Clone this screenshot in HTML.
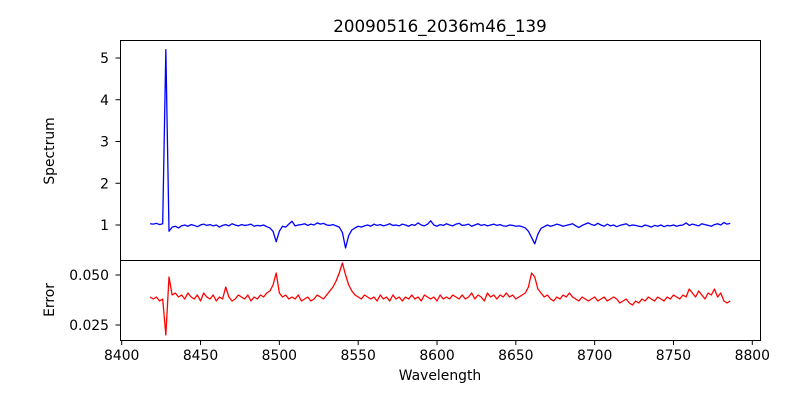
<!DOCTYPE html>
<html><head><meta charset="utf-8"><style>
html,body{margin:0;padding:0;background:#fff;}
svg text{font-family:"DejaVu Sans","Liberation Sans",sans-serif;fill:#000;}
</style></head><body>
<svg id="chart" width="800" height="400" xmlns="http://www.w3.org/2000/svg">
<rect width="800" height="400" fill="#fff"/>
<text x="440" y="32" font-size="16.7" text-anchor="middle">20090516_2036m46_139</text>
<g id="top"></g><g id="bot"></g>
<rect x="120.5" y="40.5" width="640" height="220" fill="none" stroke="#000" stroke-width="1"/>
<rect x="120.5" y="260.5" width="640" height="80" fill="none" stroke="#000" stroke-width="1"/>
<text transform="translate(54,151) rotate(-90)" font-size="13.9" text-anchor="middle">Spectrum</text>
<text transform="translate(54,300) rotate(-90)" font-size="13.9" text-anchor="middle">Error</text>
<text x="440" y="380" font-size="13.9" text-anchor="middle">Wavelength</text>
</svg>
<script>
const startWl = 8418, stepWl = 2;
const spectrum = [
1.03,1.02,1.04,1.01,1.03,5.20,0.85,0.95,0.97,0.93,
0.98,1.00,0.97,1.01,0.99,0.96,1.00,1.02,0.99,1.01,
0.98,1.00,0.95,0.99,1.01,0.98,1.03,1.00,0.98,1.01,
0.99,1.00,1.02,0.97,0.99,0.98,1.00,0.96,0.93,0.85,
0.60,0.85,0.97,0.95,1.02,1.09,0.98,1.00,1.01,1.03,
0.99,1.02,1.00,1.05,1.02,1.04,1.00,0.99,1.01,0.98,
0.95,0.82,0.45,0.75,0.88,0.93,0.97,0.95,0.98,1.00,
0.97,1.02,0.99,1.01,0.98,1.00,1.03,0.99,1.00,0.98,
1.02,1.00,0.97,1.01,0.99,1.05,1.00,0.98,1.02,1.10,
1.00,0.97,1.01,0.99,1.03,1.00,0.98,1.02,1.04,0.99,
1.00,1.02,0.97,1.00,1.03,0.99,1.01,0.98,1.00,1.02,
0.99,1.01,0.98,0.97,1.00,0.99,0.97,0.98,0.96,0.93,
0.85,0.70,0.55,0.78,0.92,0.96,1.00,0.97,0.99,1.02,
1.00,0.97,0.99,1.01,1.03,0.98,0.94,0.99,1.02,1.05,
1.01,0.99,1.04,1.00,0.97,1.02,0.98,1.00,0.96,0.99,
1.01,1.03,0.98,1.00,0.99,0.97,0.96,1.00,0.98,0.95,
0.99,0.97,1.00,0.96,0.99,0.98,1.00,0.97,0.99,1.00,
1.05,0.99,1.02,1.00,0.98,1.03,1.01,0.99,0.97,1.01,
1.03,1.00,1.06,1.02,1.04];
const errorVals = [
0.039,0.038,0.039,0.037,0.038,0.020,0.049,0.040,0.041,0.039,
0.040,0.038,0.041,0.039,0.038,0.040,0.037,0.041,0.039,0.038,
0.040,0.037,0.039,0.038,0.044,0.039,0.037,0.038,0.040,0.039,
0.038,0.040,0.037,0.039,0.038,0.040,0.039,0.041,0.042,0.045,
0.051,0.041,0.039,0.040,0.038,0.039,0.038,0.040,0.037,0.038,
0.039,0.037,0.038,0.040,0.039,0.038,0.040,0.042,0.044,0.047,
0.051,0.056,0.050,0.045,0.042,0.040,0.039,0.038,0.040,0.039,
0.038,0.039,0.037,0.040,0.038,0.039,0.037,0.040,0.038,0.039,
0.037,0.039,0.038,0.040,0.038,0.039,0.037,0.040,0.039,0.038,
0.039,0.037,0.040,0.038,0.039,0.038,0.040,0.039,0.038,0.040,
0.038,0.039,0.041,0.038,0.040,0.039,0.037,0.041,0.039,0.040,
0.038,0.040,0.039,0.041,0.039,0.040,0.038,0.039,0.040,0.041,
0.044,0.051,0.049,0.043,0.041,0.039,0.040,0.038,0.037,0.039,
0.038,0.040,0.039,0.041,0.039,0.038,0.037,0.039,0.038,0.037,
0.038,0.039,0.037,0.038,0.039,0.037,0.038,0.039,0.038,0.036,
0.037,0.038,0.036,0.035,0.037,0.036,0.038,0.037,0.039,0.038,
0.037,0.039,0.038,0.037,0.039,0.038,0.040,0.039,0.038,0.040,
0.039,0.043,0.041,0.039,0.042,0.040,0.038,0.041,0.040,0.043,
0.039,0.041,0.037,0.036,0.037];
const xTicks = [8400,8450,8500,8550,8600,8650,8700,8750,8800];
const specTicks = [1,2,3,4,5];
const errTicks = [0.025,0.050];
const errTickLabels = ["0.025","0.050"];

const NS="http://www.w3.org/2000/svg";
const xS = w => 121.7 + (w-8400)*1.5765;
const ySpec = v => 225 - (v-1)*41.75;
const yErr = v => 275 - (v-0.05)*2000;
const svg=document.getElementById('chart');
function mk(tag,attrs){const e=document.createElementNS(NS,tag);for(const k in attrs)e.setAttribute(k,attrs[k]);svg.appendChild(e);return e;}

let d='';
spectrum.forEach((v,i)=>{d+=(i?'L':'M')+xS(startWl+i*stepWl).toFixed(2)+','+ySpec(v).toFixed(2);});
const l1=mk('path',{d:d,fill:'none',stroke:'#0000ff','stroke-width':1.3,'stroke-linejoin':'round'});


d='';
errorVals.forEach((v,i)=>{d+=(i?'L':'M')+xS(startWl+i*stepWl).toFixed(2)+','+yErr(v).toFixed(2);});
const l2=mk('path',{d:d,fill:'none',stroke:'#ff0000','stroke-width':1.3,'stroke-linejoin':'round'});



xTicks.forEach(t=>{
  const x=xS(t);
  const tk=mk('line',{x1:x,x2:x,y1:340.5,y2:345,stroke:'#000'});
  
  
  const tx=mk('text',{x:x,y:360,'font-size':13.9,'text-anchor':'middle'});
  tx.textContent=t;
  
  
});
specTicks.forEach(t=>{
  const y=ySpec(t);
  const tk=mk('line',{x1:115.5,x2:120.5,y1:y,y2:y,stroke:'#000'});
  
  
  const tx=mk('text',{x:109,y:y+5,'font-size':13.9,'text-anchor':'end'});
  tx.textContent=t;
  
  
});
errTicks.forEach((t,i)=>{
  const y=yErr(t);
  const tk=mk('line',{x1:115.5,x2:120.5,y1:y,y2:y,stroke:'#000'});
  
  
  const tx=mk('text',{x:109,y:y+5,'font-size':13.9,'text-anchor':'end'});
  tx.textContent=errTickLabels[i];
  
  
});
</script>
</body></html>
